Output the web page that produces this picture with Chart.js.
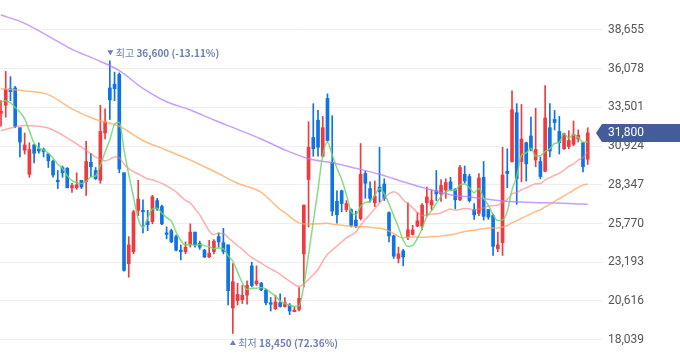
<!DOCTYPE html>
<html>
<head>
<meta charset="utf-8">
<script src="https://cdn.jsdelivr.net/npm/chart.js@4.4.1/dist/chart.umd.min.js"></script>
<style>
  html, body { margin: 0; padding: 0; background: #fff; }
  #wrap { width: 680px; height: 358px; position: relative; }
</style>
</head>
<body>
<div id="wrap"><canvas id="stockChart"></canvas></div>
<script>
// daily candles (won)
const opens = [
  33100, 33650, 34750, 34800, 32150, 30650, 29050, 31000, 30750, 30700,
  30400, 29900, 28650, 29500, 29450, 28150, 28150, 28650, 28550, 29850,
  29300, 28650, 31800, 34800, 35050, 35700, 29150, 23100, 23900, 26650,
  26650, 25900, 25900, 27300, 26900, 25150, 25300, 24900, 24000, 23900,
  24350, 25200, 24450, 24000, 23550, 23900, 24900, 24500, 24350, 20150,
  20650, 20700, 21000, 22950, 21750, 21800, 21350, 20500, 20100, 20500,
  20250, 20350, 19900, 20050, 23750, 28700, 31500, 32650, 30250, 34100,
  29850, 27250, 27950, 26700, 26700, 26000, 26100, 29100, 28100, 27150,
  28200, 28400, 26500, 24950, 23450, 23950, 24850, 25050, 25600, 25600,
  27150, 27000, 27950, 27750, 28000, 28550, 28050, 27350, 29050, 28900,
  26700, 26450, 28850, 26700, 26300, 24100, 24500, 29250, 29900, 33150,
  29900, 31150, 31600, 30000, 29900, 29250, 32150, 32700, 31900, 30750,
  30900, 31050, 31400, 31150, 30050
];
const highs = [
  33950, 35900, 35550, 34900, 32150, 31800, 31150, 31050, 31150, 30800,
  30450, 30000, 29300, 29600, 29500, 28450, 29150, 28650, 31250, 30450,
  29500, 33650, 33400, 36600, 35850, 35800, 29150, 24900, 26650, 28650,
  27350, 26650, 27650, 27450, 27000, 25550, 25400, 25000, 24350, 24550,
  25750, 25200, 24600, 24050, 24650, 24700, 25150, 25450, 24350, 23100,
  21800, 21650, 21950, 23200, 22950, 21850, 21400, 20850, 21000, 21100,
  20850, 20450, 20250, 21500, 27000, 32550, 33750, 33300, 32900, 34400,
  32950, 27950, 28000, 27300, 26750, 26600, 31100, 29250, 28550, 28600,
  30850, 28750, 26550, 25000, 24200, 24050, 27150, 25650, 26500, 27100,
  28200, 28000, 29300, 28700, 28750, 28850, 28100, 29650, 29600, 29050,
  27100, 29100, 29900, 26700, 26400, 25200, 30850, 30750, 34600, 33750,
  33700, 31200, 32850, 33450, 30200, 34950, 33750, 33300, 32900, 31800,
  31950, 32600, 32000, 31200, 32150
];
const lows = [
  32250, 32850, 33950, 32150, 30200, 30400, 28850, 29800, 30450, 30200,
  29500, 28850, 28100, 28850, 28150, 27850, 28050, 28100, 27650, 28900,
  28700, 28450, 31400, 32700, 33950, 29150, 22600, 22200, 23750, 26300,
  25150, 25300, 25750, 26650, 25700, 24750, 24500, 23950, 23350, 23750,
  24200, 24200, 24050, 23500, 23500, 23750, 24200, 23750, 20350, 18450,
  20350, 20450, 20400, 21550, 21650, 21300, 20350, 19950, 20050, 20200,
  20200, 19700, 19900, 19950, 21550, 25550, 30250, 30250, 30200, 31250,
  26300, 25800, 26550, 26550, 25550, 25500, 26000, 27450, 27200, 26900,
  27200, 27300, 24550, 23450, 23150, 22950, 24700, 25000, 25550, 25350,
  26250, 26650, 27300, 27250, 27450, 27950, 26750, 27300, 28450, 27200,
  26050, 26300, 26000, 26050, 23650, 23900, 23650, 28150, 29850, 27050,
  28550, 28600, 30600, 29550, 28750, 29200, 30200, 32000, 30400, 30700,
  30750, 30950, 31200, 29200, 29700
];
const closes = [
  33250, 34700, 34550, 32250, 31200, 31000, 30700, 30450, 30600, 30550,
  29950, 29000, 28550, 29150, 28150, 28300, 28350, 28200, 29900, 29550,
  28750, 31900, 32550, 34000, 34750, 29400, 22650, 24350, 26550, 27400,
  26550, 25700, 27550, 26750, 25750, 25050, 24550, 24000, 23900, 24200,
  25200, 24350, 24200, 23550, 23800, 24600, 24550, 23900, 21300, 21900,
  21050, 21000, 21650, 21650, 21950, 21350, 20500, 20400, 20550, 20250,
  20500, 19950, 20000, 20800, 27000, 30850, 30750, 30850, 32150, 31300,
  26600, 26350, 27100, 27100, 25650, 25600, 29050, 28450, 27450, 27600,
  27900, 27450, 24950, 23600, 23750, 23550, 25350, 25350, 25950, 27000,
  27550, 27300, 27750, 28300, 28500, 28050, 27350, 29500, 28600, 27300,
  26350, 28800, 26250, 26200, 24250, 24350, 29000, 29100, 33350, 28750,
  31400, 29750, 30700, 30700, 28900, 32800, 30600, 32500, 31150, 31750,
  31300, 31700, 31650, 29550, 31800
];

const yTicks = [18039, 20616, 23193, 25770, 28347, 30924, 33501, 36078, 38655];

// moving average values before the window is full
const ma5HeadIdx = [0, 1, 2, 3];
const ma5HeadVal = [33850, 33950, 33800, 33500];
const ma20HeadIdx = [0, 5, 10, 15];
const ma20HeadVal = [31950, 32300, 32130, 31270];
const ma60HeadIdx = [0, 5, 10, 15, 20, 25, 30, 35, 40, 45, 50, 55];
const ma60HeadVal = [34750, 34600, 34350, 33400, 32700, 32250, 31300, 30650, 30000, 29250, 28450, 27850];
// 120 day line
const ma120Idx = [0, 5, 10, 15, 20, 25, 30, 35, 40, 45, 50, 55, 60, 65, 70, 75, 80, 85, 90, 95, 100, 105, 110, 115, 120, 124];
const ma120Val = [39650, 39100, 38250, 37370, 36700, 35950, 34770, 33880, 33330, 32660,
  32040, 31400, 30670, 30090, 29820, 29450, 29050, 28550, 28090, 27690,
  27510, 27310, 27200, 27150, 27110, 27050];

const RED = '#ef3a3f';
const BLUE = '#0f72e5';
const LABEL_COLOR = '#6e7fb2';
const FONT = '"Noto Sans CJK KR", "Noto Sans", sans-serif';

function movingAvg(n, headIdx, headVal) {
  const out = closes.map(() => null);
  headIdx.forEach((k, j) => { out[k] = headVal[j]; });
  for (let i = n - 1; i < closes.length; i++) {
    let s = 0;
    for (let k = i - n + 1; k <= i; k++) s += closes[k];
    out[i] = s / n;
  }
  return out.map((v, i) => ({ x: i, y: v })).filter(p => p.y !== null);
}

const candleColors = closes.map((c, i) => (c >= opens[i] ? RED : BLUE));

function lineSet(data, color) {
  return {
    type: 'line',
    data: data,
    borderColor: color,
    borderWidth: 1.5,
    pointRadius: 0,
    cubicInterpolationMode: 'monotone',
    order: 0
  };
}

const fmt = v => v.toLocaleString('en-US');

const markerPlugin = {
  id: 'markers',
  afterDraw(chart) {
    const { ctx, scales: { x, y } } = chart;
    const last = closes[closes.length - 1];
    const hiVal = Math.max(...highs);
    const loVal = Math.min(...lows);
    const hi = highs.indexOf(hiVal);
    const lo = lows.indexOf(loVal);

    ctx.save();
    ctx.fillStyle = LABEL_COLOR;
    ctx.textBaseline = 'alphabetic';

    // highest
    let px = x.getPixelForValue(hi);
    let py = y.getPixelForValue(hiVal);
    ctx.beginPath();
    ctx.moveTo(px - 2.5, py - 10.5);
    ctx.lineTo(px + 3.5, py - 10.5);
    ctx.lineTo(px + 0.5, py - 5.5);
    ctx.closePath();
    ctx.fill();
    ctx.font = '10px ' + FONT;
    ctx.fillText('최고', px + 6, py - 3.5);
    let w = ctx.measureText('최고 ').width;
    ctx.font = 'bold 10px ' + FONT;
    ctx.fillText(fmt(hiVal) + ' (' + ((last / hiVal - 1) * 100).toFixed(2) + '%)', px + 6 + w, py - 3.5);

    // lowest
    px = x.getPixelForValue(lo);
    py = y.getPixelForValue(loVal);
    ctx.beginPath();
    ctx.moveTo(px - 3, py + 11.5);
    ctx.lineTo(px + 3, py + 11.5);
    ctx.lineTo(px, py + 6.5);
    ctx.closePath();
    ctx.fill();
    ctx.font = '10px ' + FONT;
    ctx.fillText('최저', px + 5.5, py + 13);
    w = ctx.measureText('최저 ').width;
    ctx.font = 'bold 10px ' + FONT;
    ctx.fillText(fmt(loVal) + ' (' + ((last / loVal - 1) * 100).toFixed(2) + '%)', px + 5.5 + w, py + 13);

    // current price tag
    const ty = y.getPixelForValue(last);
    ctx.fillStyle = '#455c9a';
    ctx.beginPath();
    ctx.moveTo(596, ty);
    ctx.lineTo(602, ty - 9);
    ctx.lineTo(680, ty - 9);
    ctx.lineTo(680, ty + 9);
    ctx.lineTo(602, ty + 9);
    ctx.closePath();
    ctx.fill();
    ctx.fillStyle = '#ffffff';
    ctx.font = '12px Roboto, "Noto Sans", sans-serif';
    ctx.textBaseline = 'middle';
    ctx.fillText(fmt(last), 608, ty + 0.5);
    ctx.restore();
  }
};

new Chart(document.getElementById('stockChart').getContext('2d'), {
  type: 'bar',
  data: {
    datasets: [
      lineSet(movingAvg(5, ma5HeadIdx, ma5HeadVal), 'rgba(110, 215, 110, 0.85)'),
      lineSet(movingAvg(20, ma20HeadIdx, ma20HeadVal), 'rgba(255, 120, 120, 0.6)'),
      lineSet(movingAvg(60, ma60HeadIdx, ma60HeadVal), 'rgba(255, 165, 90, 0.75)'),
      lineSet(ma120Idx.map((k, j) => ({ x: k, y: ma120Val[j] })), 'rgba(180, 125, 255, 0.75)'),
      {
        // bodies
        data: closes.map((c, i) => ({ x: i, y: [opens[i], c] })),
        backgroundColor: candleColors,
        barThickness: 3,
        minBarLength: 1,
        grouped: false,
        borderSkipped: false,
        order: 1
      },
      {
        // wicks
        data: closes.map((c, i) => ({ x: i, y: [lows[i], highs[i]] })),
        backgroundColor: candleColors,
        barThickness: 1,
        grouped: false,
        borderSkipped: false,
        order: 2
      }
    ]
  },
  options: {
    responsive: true,
    maintainAspectRatio: false,
    animation: false,
    layout: { padding: 0 },
    plugins: {
      legend: { display: false },
      tooltip: { enabled: false }
    },
    scales: {
      x: {
        type: 'linear',
        display: false,
        offset: false,
        min: -0.211,
        max: 127.23
      },
      y: {
        position: 'right',
        min: 16820,
        max: 40652,
        afterBuildTicks: s => { s.ticks = yTicks.map(v => ({ value: v })); },
        afterFit: s => { s.width = 77; s.paddingTop = 0; s.paddingBottom = 0; },
        grid: { color: '#efefef', drawTicks: false },
        border: { display: false },
        ticks: {
          autoSkip: false,
          padding: 5,
          color: '#555555',
          font: { family: 'Roboto, "Noto Sans", sans-serif', size: 12 },
          callback: v => fmt(v)
        }
      }
    }
  },
  plugins: [markerPlugin]
});
</script>
</body>
</html>
